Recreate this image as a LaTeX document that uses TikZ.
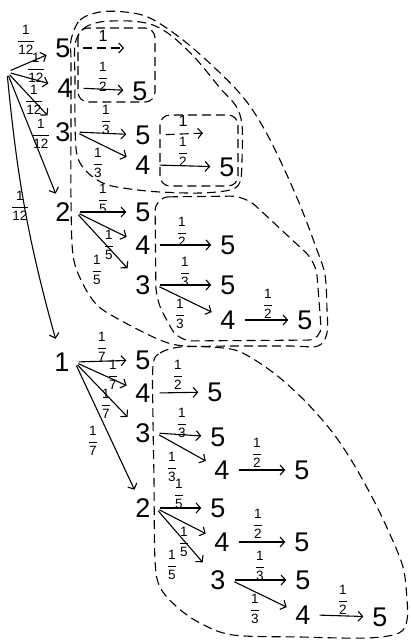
\documentclass[tikz,border=0pt]{standalone}
\usepackage{amsmath}
\usepackage{fontspec}
\setmainfont{Liberation Sans}
\usetikzlibrary{arrows.meta}
\newcommand\fr[2]{$\dfrac{\text{#1}}{\text{#2}}$}
\begin{document}
\begin{tikzpicture}[x=1pt,y=-1pt,
  dig/.style={font=\fontsize{27}{27}\selectfont, inner sep=5pt},
  lab/.style={font=\fontsize{13.5}{13.5}\selectfont, inner sep=0pt},
  one/.style={font=\fontsize{16}{16}\selectfont, inner sep=0pt},
  arr/.style={-{Straight Barb[length=4.5pt,width=10pt]}, line width=1.1pt, shorten <=4pt, shorten >=4pt},
  darr/.style={arr, dash pattern=on 9pt off 5pt},
  dsh/.style={dash pattern=on 9pt off 5pt, line width=1.1pt},
]
\useasboundingbox (0,0) rectangle (410,643);

% ---------- root and first level ----------
\coordinate (r) at (7,72);
\node[dig] (n5) at (63,48) {5};
\node[dig] (n4) at (65,88) {4};
\node[dig] (n3) at (63,132) {3};
\node[dig] (n2) at (63,212) {2};
\node[dig] (n1) at (62,362) {1};

\draw[arr] (r) -- (n5);
\draw[arr] (r) -- (n4);
\draw[arr] (r) -- (n3);
\draw[arr] (r) -- (n2);
\draw[arr, shorten >=9pt] (r) to[bend right=5] (n1);

\node[lab] (l5) at (26,40) {\fr{1}{12}};
\node[lab] (l4) at (36,68) {\fr{1}{12}};
\node[lab] (l3) at (34,100) {\fr{1}{12}};
\node[lab] (l2) at (41,134) {\fr{1}{12}};
\node[lab] (l1) at (20,206) {\fr{1}{12}};

% ---------- from 5 and 4 ----------
\coordinate (t1) at (128,48);
\draw[darr, shorten <=7pt] (n5.east) -- (t1);
\node[one] (o1) at (103,36) {1};
\node[dig] (p5) at (140,91) {5};
\draw[arr, shorten <=6pt] (n4.east) -- (p5);
\node[lab] (q1) at (103,77) {\fr{1}{2}};

% ---------- from 3 ----------
\node[dig] (a5) at (143,135) {5};
\node[dig] (a4) at (143,165) {4};
\draw[arr] (n3.east) -- (a5);
\draw[arr] (n3.east) -- (a4);
\node[lab] at (106,120) {\fr{1}{3}};
\node[lab] at (98,163) {\fr{1}{3}};
\coordinate (t2) at (207,133);
\draw[darr, shorten <=10pt] (a5.east) -- (t2);
\node[one] at (183,121) {1};
\node[dig] (b5) at (227,167) {5};
\draw[arr] (a4.east) -- (b5);
\node[lab] at (183,152) {\fr{1}{2}};

% ---------- from 2 ----------
\node[dig] (c5) at (143,212) {5};
\node[dig] (c4) at (143,245) {4};
\node[dig] (c3) at (143,285) {3};
\draw[arr] (n2.east) -- (c5);
\draw[arr] (n2.east) -- (c4);
\draw[arr] (n2.east) -- (c3);
\node[lab] at (103,199) {\fr{1}{5}};
\node[lab] at (109,245) {\fr{1}{5}};
\node[lab] at (97,270) {\fr{1}{5}};
\node[dig] (c45) at (228,245) {5};
\draw[arr] (c4.east) -- (c45);
\node[lab] at (182,232) {\fr{1}{2}};
\node[dig] (c35) at (228,285) {5};
\node[dig] (c34) at (228,320) {4};
\draw[arr] (c3.east) -- (c35);
\draw[arr] (c3.east) -- (c34);
\node[lab] at (185,272) {\fr{1}{3}};
\node[lab] at (180,314) {\fr{1}{3}};
\node[dig] (c345) at (305,320) {5};
\draw[arr] (c34.east) -- (c345);
\node[lab] at (268,304) {\fr{1}{2}};

% ---------- from 1 ----------
\node[dig] (d5) at (143,360) {5};
\node[dig] (d4) at (143,393) {4};
\node[dig] (d3) at (143,433) {3};
\node[dig] (d2) at (143,508) {2};
\draw[arr] (n1.east) -- (d5);
\draw[arr] (n1.east) -- (d4);
\draw[arr] (n1.east) -- (d3);
\draw[arr] (n1.east) -- (d2);
\node[lab] at (102,347) {\fr{1}{7}};
\node[lab] at (113,375) {\fr{1}{7}};
\node[lab] at (106,404) {\fr{1}{7}};
\node[lab] at (93,441) {\fr{1}{7}};
\node[dig] (d45) at (215,392) {5};
\draw[arr] (d4.east) -- (d45);
\node[lab] at (178,375) {\fr{1}{2}};
\node[dig] (d35) at (218,437) {5};
\node[dig] (d34) at (222,470) {4};
\draw[arr] (d3.east) -- (d35);
\draw[arr] (d3.east) -- (d34);
\node[lab] at (182,423) {\fr{1}{3}};
\node[lab] at (172,467) {\fr{1}{3}};
\node[dig] (d345) at (302,470) {5};
\draw[arr] (d34.east) -- (d345);
\node[lab] at (257,453) {\fr{1}{2}};

% ---------- from 1 -> 2 ----------
\node[dig] (e5) at (218,508) {5};
\node[dig] (e4) at (222,542) {4};
\node[dig] (e3) at (218,580) {3};
\draw[arr] (d2.east) -- (e5);
\draw[arr] (d2.east) -- (e4);
\draw[arr] (d2.east) -- (e3);
\node[lab] at (179,494) {\fr{1}{5}};
\node[lab] at (184,542) {\fr{1}{5}};
\node[lab] at (172,565) {\fr{1}{5}};
\node[dig] (e45) at (302,542) {5};
\draw[arr] (e4.east) -- (e45);
\node[lab] at (258,524) {\fr{1}{2}};
\node[dig] (e35) at (303,580) {5};
\node[dig] (e34) at (303,615) {4};
\draw[arr] (e3.east) -- (e35);
\draw[arr] (e3.east) -- (e34);
\node[lab] at (260,566) {\fr{1}{3}};
\node[lab] at (255,609) {\fr{1}{3}};
\node[dig] (e345) at (380,617) {5};
\draw[arr] (e34.east) -- (e345);
\node[lab] at (343,600) {\fr{1}{2}};

% ---------- dashed groupings ----------
\draw[dsh, rounded corners=10pt] (78,28) rectangle (155,102);
\draw[dsh, rounded corners=10pt] (160,115) rectangle (238,186);
\draw[dsh, rounded corners=14pt] (155,197) -- (245,196) -- (316,262) -- (322,340) -- (178,341) -- (156,300) -- cycle;
% middle region
\draw[dsh] plot[smooth cycle, tension=0.55] coordinates {
  (75,45) (83,29) (100,22) (130,21) (153,25) (173,37) (197,60) (220,88)
  (236,106) (242,125) (242,160) (240,182) (230,190) (200,193) (160,192)
  (130,189) (105,184) (87,172) (77,155) (75,120) (75,80)};
% outer region
\draw[dsh] plot[smooth cycle, tension=0.55] coordinates {
  (71,40) (80,20) (100,12) (125,12) (150,18) (183,40) (217,70) (243,97)
  (262,125) (280,160) (300,205) (317,250) (325,275) (327,310) (327,333)
  (318,346) (290,346) (230,346) (185,346) (160,340) (120,320) (97,305)
  (82,282) (73,255) (71,200) (71,120) (71,60)};
% bottom region
\draw[dsh] plot[smooth cycle, tension=0.55] coordinates {
  (153,366) (160,353) (180,347) (210,347) (235,350) (255,360) (280,378)
  (307,403) (333,433) (353,463) (372,497) (388,530) (403,567) (407,600)
  (407,620) (399,633) (367,638) (300,637) (233,635) (200,623) (177,607)
  (160,587) (155,560) (154,480) (153,420)};
\end{tikzpicture}
\end{document}
